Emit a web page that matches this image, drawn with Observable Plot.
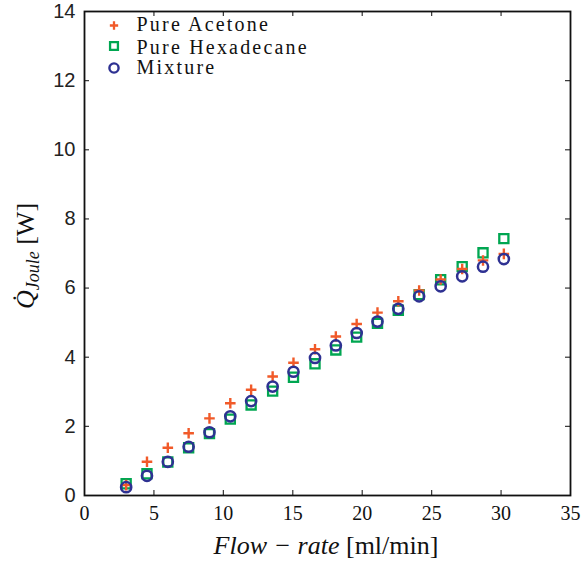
<!DOCTYPE html>
<html>
<head>
<meta charset="utf-8">
<script src="https://cdn.jsdelivr.net/npm/d3@7"></script>
<script src="https://cdn.jsdelivr.net/npm/@observablehq/plot@0.6"></script>
<style>
  html, body { margin: 0; padding: 0; background: #fff; }
  #chart { width: 588px; height: 564px; }
</style>
</head>
<body>
<div id="chart"></div>
<script>
const flowRate = [3.0, 4.5, 6.0, 7.5, 9.0, 10.5, 12.0, 13.55, 15.05, 16.6, 18.1, 19.6, 21.1, 22.6, 24.1, 25.65, 27.2, 28.7, 30.2];
const acetone = [0.30, 0.975, 1.38, 1.80, 2.23, 2.67, 3.06, 3.44, 3.84, 4.23, 4.60, 4.96, 5.29, 5.62, 5.93, 6.25, 6.55, 6.80, 6.99];
const hexadecane = [0.34, 0.63, 0.97, 1.38, 1.79, 2.21, 2.62, 3.02, 3.42, 3.81, 4.21, 4.58, 4.98, 5.36, 5.81, 6.24, 6.62, 7.02, 7.43];
const mixture = [0.24, 0.57, 0.975, 1.41, 1.83, 2.29, 2.73, 3.15, 3.58, 3.98, 4.34, 4.70, 5.03, 5.40, 5.76, 6.05, 6.34, 6.62, 6.84];

const xTicks = [0, 5, 10, 15, 20, 25, 30, 35];
const yTicks = [0, 2, 4, 6, 8, 10, 12, 14];
const legendLabels = ["Pure Acetone", "Pure Hexadecane", "Mixture"];

const colAcetone = "#f15a29";
const colHexa = "#00a651";
const colMix = "#2e3192";

const mk = (ys) => flowRate.map((x, i) => ({x, y: ys[i]}));
const dAcetone = mk(acetone);
const dHexa = mk(hexadecane);
const dMix = mk(mixture);

const serif = "Liberation Serif, Times New Roman, serif";
const sans = "Liberation Sans, Arial, Helvetica, sans-serif";

const innerTicksX = xTicks.slice(1, -1);
const innerTicksY = yTicks.slice(1, -1);
const tickCol = "#333";

const legendSymbols = [
  {symbol: "plus", stroke: colAcetone, r: 2.8, strokeWidth: 2.3, dy: 14},
  {symbol: "square2", stroke: colHexa, r: 5.0, strokeWidth: 2.3, dy: 34.5},
  {symbol: "circle", stroke: colMix, r: 4.6, strokeWidth: 2.4, dy: 56.5}
];
const legendBaselines = [19, 42, 62];

const marks = [
  Plot.dot(dHexa, {x: "x", y: "y", symbol: "square2", r: 5.8, stroke: colHexa, strokeWidth: 2.3, fill: "none"}),
  Plot.dot(dAcetone, {x: "x", y: "y", symbol: "plus", r: 3.5, stroke: colAcetone, strokeWidth: 2.4, fill: "none"}),
  Plot.dot(dMix, {x: "x", y: "y", symbol: "circle", r: 5.1, stroke: colMix, strokeWidth: 2.5, fill: "none"}),
  Plot.tickX(innerTicksX, {x: d => d, insetTop: 479, stroke: tickCol, strokeWidth: 1.2}),
  Plot.tickX(innerTicksX, {x: d => d, insetBottom: 479, stroke: tickCol, strokeWidth: 1.2}),
  Plot.tickY(innerTicksY, {y: d => d, insetRight: 481, stroke: tickCol, strokeWidth: 1.2}),
  Plot.tickY(innerTicksY, {y: d => d, insetLeft: 481, stroke: tickCol, strokeWidth: 1.2}),
  Plot.frame({stroke: "#111", strokeWidth: 1.8}),
  Plot.axisX({ticks: xTicks, tickSize: 0, tickPadding: 10, label: null, fontFamily: serif, fontSize: 20, fill: "#111", tickFormat: d => String(d)}),
  Plot.axisY({ticks: yTicks, tickSize: 0, tickPadding: 9, label: null, fontFamily: sans, fontSize: 20, fill: "#222", tickFormat: d => String(d)})
];

legendSymbols.forEach((s, i) => {
  marks.push(Plot.dot([legendLabels[i]], {frameAnchor: "top-left", dx: 29.5, dy: s.dy, symbol: s.symbol, r: s.r, stroke: s.stroke, strokeWidth: s.strokeWidth, fill: "none"}));
  marks.push(Plot.text([legendLabels[i]], {frameAnchor: "top-left", text: d => d, dx: 52, dy: legendBaselines[i], textAnchor: "start", lineAnchor: "bottom", fontFamily: serif, fontSize: 20, fill: "#111"}));
});

const chart = Plot.plot({
  width: 588,
  height: 564,
  marginTop: 11,
  marginRight: 18,
  marginBottom: 69,
  marginLeft: 84,
  x: {domain: [0, 35]},
  y: {domain: [0, 14]},
  style: {background: "#fff", overflow: "visible"},
  marks
});

const svg = d3.select(chart);
svg.selectAll('g[aria-label="text"] text').style("letter-spacing", "2.2px").style("font-family", serif);
svg.selectAll('g[aria-label="x-axis tick label"]').attr("font-family", serif).style("font-family", serif);
svg.selectAll('g[aria-label="x-axis tick label"] text').style("font-family", serif);

const xl = svg.append("text")
  .attr("x", 326).attr("y", 554)
  .attr("text-anchor", "middle")
  .style("font-family", serif).attr("font-size", 26).attr("fill", "#111");
xl.append("tspan").attr("font-style", "italic").text("Flow − rate");
xl.append("tspan").text(" [ml/min]");

const yl = svg.append("text")
  .attr("transform", "translate(34,256) rotate(-90)")
  .attr("text-anchor", "middle")
  .style("font-family", serif).attr("font-size", 26).attr("fill", "#111");
yl.append("tspan").attr("font-style", "italic").text("Q\u0307");
yl.append("tspan").attr("font-style", "italic").attr("font-size", 18).attr("dy", "0.3em").text("Joule");
yl.append("tspan").attr("dy", "-0.21em").text(" [W]");

document.getElementById("chart").appendChild(chart);
</script>
</body>
</html>
